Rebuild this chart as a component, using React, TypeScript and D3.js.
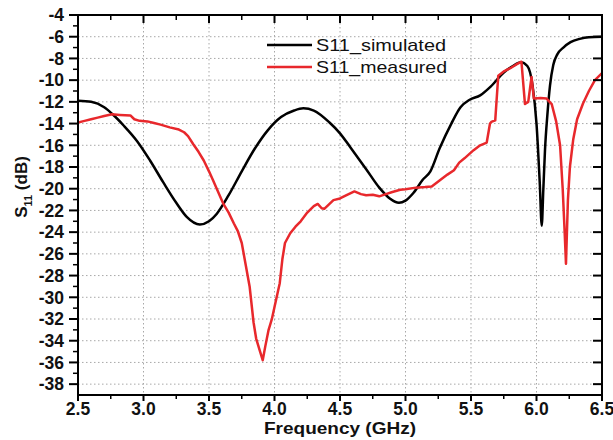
import React from "react";
import * as d3 from "d3";

const simFreq = [2.5,2.6,2.7,2.76,2.85,2.95,3.05,3.15,3.25,3.33,3.43,3.5,3.56,3.65,3.75,3.85,3.95,4.05,4.15,4.22,4.3,4.42,4.5,4.58,4.7,4.8,4.88,4.95,5.0,5.06,5.13,5.19,5.26,5.35,5.42,5.49,5.57,5.65,5.75,5.82,5.88,5.93,5.97,6.0,6.025,6.04,6.052,6.065,6.083,6.103,6.128,6.16,6.205,6.26,6.33,6.4,6.5];
const simVal = [-11.9,-12.0,-12.5,-13.1,-14.2,-15.6,-17.4,-19.4,-21.3,-22.6,-23.3,-23.0,-22.3,-20.6,-18.4,-16.3,-14.6,-13.4,-12.8,-12.6,-12.8,-13.9,-14.9,-16.2,-18.2,-19.9,-20.9,-21.3,-21.1,-20.4,-19.2,-18.4,-16.3,-14.0,-12.5,-11.8,-11.4,-10.6,-9.3,-8.7,-8.35,-8.7,-10.5,-14.0,-19.5,-23.4,-20.1,-16.4,-13.2,-10.5,-8.6,-7.6,-7.0,-6.5,-6.2,-6.05,-6.0];

const measFreq = [2.5,2.55,2.6,2.65,2.7,2.76,2.82,2.9,2.93,2.97,3.03,3.08,3.13,3.2,3.27,3.31,3.34,3.38,3.42,3.46,3.5,3.53,3.57,3.61,3.65,3.69,3.72,3.75,3.78,3.81,3.84,3.86,3.89,3.91,3.93,3.955,3.98,4.0,4.04,4.06,4.08,4.12,4.16,4.2,4.25,4.3,4.33,4.36,4.38,4.42,4.45,4.5,4.55,4.61,4.66,4.7,4.75,4.8,4.85,4.9,4.96,5.0,5.08,5.15,5.2,5.26,5.32,5.37,5.41,5.45,5.52,5.57,5.62,5.645,5.655,5.685,5.708,5.75,5.8,5.84,5.885,5.912,5.937,5.962,5.98,6.03,6.077,6.116,6.15,6.18,6.2,6.215,6.225,6.24,6.255,6.28,6.31,6.355,6.4,6.446,6.5];
const measVal = [-13.9,-13.75,-13.6,-13.45,-13.3,-13.15,-13.2,-13.25,-13.6,-13.75,-13.8,-13.95,-14.1,-14.35,-14.55,-14.8,-15.15,-15.9,-16.6,-17.4,-18.4,-19.2,-20.3,-21.4,-22.2,-23.2,-23.9,-25.0,-27.0,-29.0,-32.3,-33.8,-35.0,-35.8,-34.5,-33.0,-32.0,-30.9,-28.7,-26.5,-25.0,-24.1,-23.5,-23.0,-22.2,-21.6,-21.4,-21.8,-21.85,-21.4,-21.05,-20.9,-20.6,-20.25,-20.5,-20.6,-20.55,-20.7,-20.5,-20.3,-20.1,-20.05,-19.9,-19.85,-19.8,-19.25,-18.7,-18.3,-17.6,-17.2,-16.45,-16.0,-15.75,-14.0,-13.85,-13.7,-9.6,-9.2,-8.9,-8.6,-8.3,-12.2,-12.0,-9.7,-11.7,-11.65,-11.7,-12.2,-13.8,-16.0,-20.0,-24.0,-26.9,-21.0,-18.0,-15.5,-13.6,-12.15,-11.0,-10.0,-9.35];

const xTicks = [2.5,3.0,3.5,4.0,4.5,5.0,5.5,6.0,6.5];
const xMinor = [2.75,3.25,3.75,4.25,4.75,5.25,5.75,6.25];
const yTicks = [-38,-36,-34,-32,-30,-28,-26,-24,-22,-20,-18,-16,-14,-12,-10,-8,-6,-4];
const yMinor = [-37,-35,-33,-31,-29,-27,-25,-23,-21,-19,-17,-15,-13,-11,-9,-7,-5];
const seriesNames = ["S11_simulated", "S11_measured"];

const W = 613, H = 440;
const L = 78, R = 602, T = 15, B = 395;
const FONT = "'Liberation Sans', Arial, sans-serif";

export default function App() {
  const x = d3.scaleLinear().domain([2.5, 6.5]).range([L, R]);
  const y = d3.scaleLinear().domain([-39, -4]).range([B, T]);
  const sim = simFreq.map((f, i) => [f, simVal[i]] as [number, number]);
  const meas = measFreq.map((f, i) => [f, measVal[i]] as [number, number]);
  const smooth = d3.line<[number, number]>().x(d => x(d[0])).y(d => y(d[1])).curve(d3.curveMonotoneX);
  const lin = d3.line<[number, number]>().x(d => x(d[0])).y(d => y(d[1]));
  const fmt = d3.format(".1f");
  return (
    <svg width={W} height={H} style={{ position: "absolute", left: 0, top: 0, background: "#fff" }} fontFamily={FONT}>
      <defs>
        <clipPath id="plot"><rect x={L} y={T} width={R - L} height={B - T} /></clipPath>
      </defs>
      <rect x={0} y={0} width={W} height={H} fill="#fff" />
      {/* grid */}
      {xTicks.slice(1, -1).map(t => (
        <line key={"gx" + t} x1={x(t)} x2={x(t)} y1={T} y2={B} stroke="#a8a8a8" strokeWidth={1} strokeDasharray="1.5,2.5" />
      ))}
      {yTicks.slice(0, -1).map(t => (
        <line key={"gy" + t} x1={L} x2={R} y1={y(t)} y2={y(t)} stroke="#a8a8a8" strokeWidth={1} strokeDasharray="1.5,2.5" />
      ))}
      {/* curves */}
      <g clipPath="url(#plot)">
        <path d={smooth(sim) || ""} fill="none" stroke="#000" strokeWidth={2.5} strokeLinejoin="round" />
        <path d={lin(meas) || ""} fill="none" stroke="#e8282c" strokeWidth={2.5} strokeLinejoin="round" />
      </g>
      {/* frame */}
      <rect x={L} y={T} width={R - L} height={B - T} fill="none" stroke="#000" strokeWidth={2} />
      {/* left ticks */}
      {yTicks.map(t => (
        <line key={"ly" + t} x1={L - 9} x2={L} y1={y(t)} y2={y(t)} stroke="#000" strokeWidth={2} />
      ))}
      {yMinor.map(t => (
        <line key={"lym" + t} x1={L - 5} x2={L} y1={y(t)} y2={y(t)} stroke="#000" strokeWidth={1.5} />
      ))}
      {/* right ticks */}
      {yTicks.map(t => (
        <line key={"ry" + t} x1={R - 9} x2={R} y1={y(t)} y2={y(t)} stroke="#000" strokeWidth={2} />
      ))}
      {/* bottom ticks */}
      {xTicks.map(t => (
        <line key={"bx" + t} x1={x(t)} x2={x(t)} y1={B} y2={B + 6} stroke="#000" strokeWidth={2} />
      ))}
      {xMinor.map(t => (
        <line key={"bxm" + t} x1={x(t)} x2={x(t)} y1={B} y2={B + 4} stroke="#000" strokeWidth={1.5} />
      ))}
      {/* top ticks */}
      {xTicks.map(t => (
        <line key={"tx" + t} x1={x(t)} x2={x(t)} y1={T} y2={T + 8} stroke="#000" strokeWidth={2} />
      ))}
      {xMinor.map(t => (
        <line key={"txm" + t} x1={x(t)} x2={x(t)} y1={T} y2={T + 5} stroke="#000" strokeWidth={1.5} />
      ))}
      {/* y labels */}
      {yTicks.map(t => (
        <text key={"yl" + t} x={L - 14} y={y(t)} dy="0.36em" textAnchor="end" fontSize={17.5} fontWeight="bold" fill="#111">{t}</text>
      ))}
      {/* x labels */}
      {xTicks.map(t => (
        <text key={"xl" + t} x={x(t)} y={B + 20} textAnchor="middle" fontSize={17.5} fontWeight="bold" fill="#111">{fmt(t)}</text>
      ))}
      {/* axis titles */}
      <text x={340} y={434} textAnchor="middle" fontSize={17} fontWeight="bold" fill="#111" textLength={152} lengthAdjust="spacingAndGlyphs">Frequency (GHz)</text>
      <text transform="translate(27,187) rotate(-90)" textAnchor="middle" fontSize={17} fontWeight="bold" fill="#111">
        S<tspan fontSize={11} dy={5}>11</tspan><tspan dy={-5}> (dB)</tspan>
      </text>
      {/* legend */}
      <line x1={267} x2={312} y1={45} y2={45} stroke="#000" strokeWidth={2.5} />
      <text x={316} y={50.5} fontSize={17} fill="#111" textLength={130} lengthAdjust="spacingAndGlyphs">{seriesNames[0]}</text>
      <line x1={267} x2={312} y1={67} y2={67} stroke="#e8282c" strokeWidth={2.5} />
      <text x={316} y={72.5} fontSize={17} fill="#111" textLength={131} lengthAdjust="spacingAndGlyphs">{seriesNames[1]}</text>
    </svg>
  );
}
